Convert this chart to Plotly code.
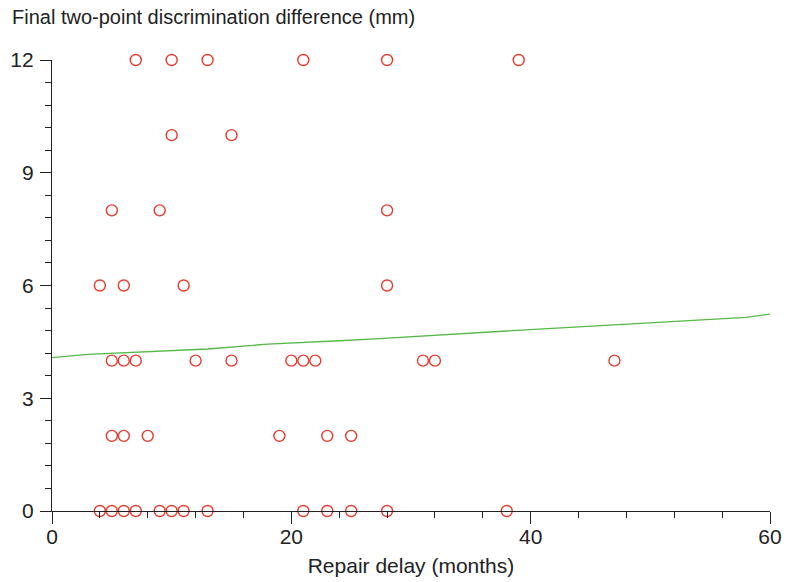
import plotly.graph_objects as go

# Scatter data: repair delay (months) vs final 2PD difference (mm)
delay_12 = [7, 10, 13, 21, 28, 39]
delay_10 = [10, 15]
delay_8 = [5, 9, 28]
delay_6 = [4, 6, 11, 28]
delay_4 = [5, 6, 7, 12, 15, 20, 21, 22, 31, 32, 47]
delay_2 = [5, 6, 8, 19, 23, 25]
delay_0 = [4, 5, 6, 7, 9, 10, 11, 13, 21, 23, 25, 28, 38]

groups = [(12, delay_12), (10, delay_10), (8, delay_8), (6, delay_6),
          (4, delay_4), (2, delay_2), (0, delay_0)]
xs, ys = [], []
for yv, dl in groups:
    xs += dl
    ys += [yv] * len(dl)

# Fitted (smoothed) trend line
fit_x = [0, 3, 13, 18, 24, 27, 38, 50, 58, 60]
fit_y = [4.08, 4.17, 4.31, 4.44, 4.53, 4.58, 4.79, 5.01, 5.15, 5.24]

x_ticks = [0, 20, 40, 60]
y_ticks = [0, 3, 6, 9, 12]

FONT = "Liberation Sans, Arial, Helvetica, sans-serif"
TXT = "#222"

W, H = 792, 582

fig = go.Figure()
fig.add_trace(go.Scatter(x=fit_x, y=fit_y, mode="lines",
                         line=dict(color="#55b947", width=1.3),
                         hoverinfo="skip", showlegend=False))
fig.add_trace(go.Scatter(x=xs, y=ys, mode="markers", cliponaxis=False,
                         marker=dict(symbol="circle-open", size=11,
                                     color="#e63b2e", line=dict(width=1.4)),
                         showlegend=False))

fig.update_layout(
    width=W, height=H,
    margin=dict(l=52, r=22, t=60, b=71),
    paper_bgcolor="white", plot_bgcolor="white",
    font=dict(family=FONT, size=20, color=TXT),
    title=dict(text="Final two-point discrimination difference (mm)",
               xref="container", yref="container",
               x=12 / W, xanchor="left", y=1 - 17 / H, yanchor="middle",
               pad=dict(l=0, r=0, t=0, b=0),
               font=dict(family=FONT, size=20, color=TXT)),
)
fig.update_xaxes(
    range=[0, 60], tickvals=x_ticks, ticks="outside", ticklen=12, tickwidth=1.3,
    tickcolor=TXT, showline=True, linecolor=TXT, linewidth=1.3,
    showgrid=False, zeroline=False, automargin=False,
    ticklabelstandoff=-5,
    tickfont=dict(family=FONT, size=21, color=TXT),
    minor=dict(dtick=4, tick0=0, ticks="outside", ticklen=6, tickwidth=1.3,
               tickcolor=TXT, showgrid=False),
    title=dict(text="Repair delay (months)", standoff=10,
               font=dict(family=FONT, size=21, color=TXT)),
)
fig.update_yaxes(
    range=[0, 12], tickvals=y_ticks, ticks="outside", ticklen=11, tickwidth=1.3,
    tickcolor=TXT, showline=True, linecolor=TXT, linewidth=1.3,
    showgrid=False, zeroline=False, automargin=False,
    ticklabelstandoff=2,
    tickfont=dict(family=FONT, size=21, color=TXT),
    minor=dict(dtick=0.6, tick0=0, ticks="outside", ticklen=6, tickwidth=1.3,
               tickcolor=TXT, showgrid=False),
)

fig.write_html("out.html",
               config={"displayModeBar": False},
               post_script="document.body.style.margin='0';")
